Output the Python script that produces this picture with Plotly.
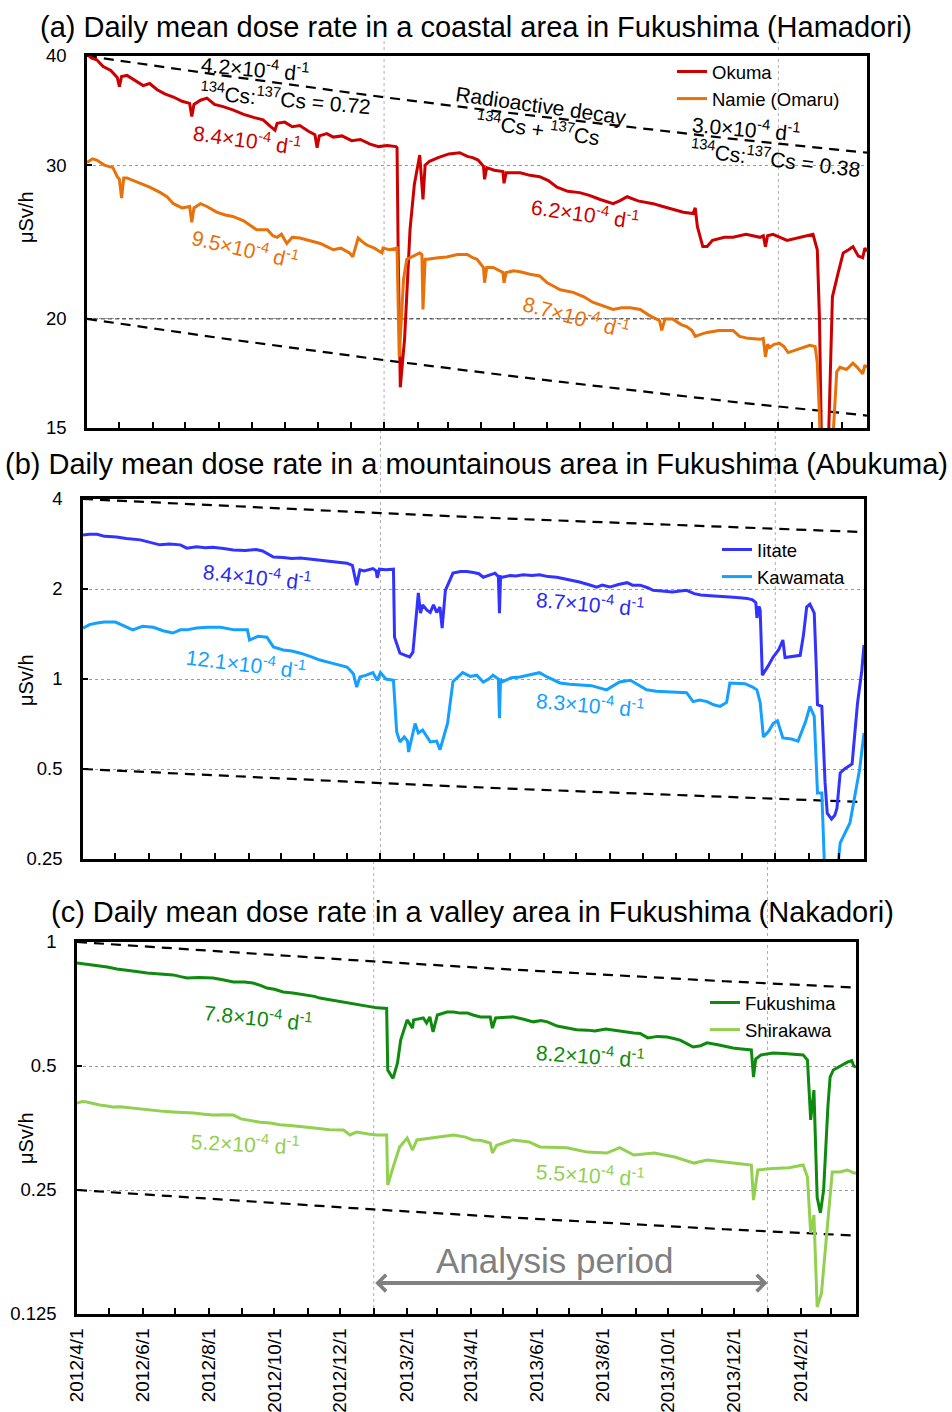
import math
import pandas as pd
import plotly.graph_objects as go

W, H = 952, 1412
FONT = "Liberation Sans, Arial, sans-serif"
BASE = pd.Timestamp("2012-04-01")
X_RANGE = ["2012-04-01", "2014-03-24"]

# ---------------- data (day offset from 2012/4/1, µSv/h) ----------------
okuma = [(0,40.2),(4,39.8),(9,39.6),(15,38.9),(22,38.5),(28,37.8),(30,36.9),(32,37.9),(37,38.0),(45,37.5),
         (52,37.0),(58,37.2),(65,36.6),(72,36.2),(80,35.9),(88,35.5),(95,35.3),(97,34.1),(99,35.2),(105,35.6),
         (111,35.8),(118,35.2),(126,35.0),(135,34.7),(145,34.3),(155,34.0),(163,33.8),(170,33.2),(174,32.9),
         (176,33.5),(183,33.6),(190,33.2),(197,33.3),(205,32.8),(211,32.5),(213,31.4),(215,32.4),(222,32.6),
         (228,32.3),(236,32.4),(245,32.0),(253,32.1),(262,31.7),(270,31.5),(278,31.6),(286,31.5),(287,31.4),
         (288,24.0),(290,16.7),(294,19.0),(299,25.3),(303,28.5),(308,30.8),(311,27.4),(313,30.0),(317,30.3),
         (325,30.6),(335,30.9),(345,31.0),(352,30.7),(357,30.6),(362,30.4),(367,29.9),(368,28.9),(370,29.8),
         (377,29.6),(385,29.5),(386,28.6),(388,29.4),(401,29.4),(410,29.2),(419,29.1),(427,28.8),(435,28.3),
         (445,28.0),(456,27.9),(465,27.7),(475,27.4),(487,27.1),(493,27.3),(500,27.6),(510,27.3),(524,27.1),
         (533,26.9),(542,26.7),(552,26.5),(561,26.4),(563,26.8),(565,25.5),(570,24.2),(574,24.2),(579,24.6),
         (590,24.8),(598,24.8),(610,25.0),(623,24.8),(626,24.9),(628,24.2),(630,24.9),(635,25.0),(648,24.6),
         (660,24.8),(672,25.0),(676,24.0),(678,20.0),(680,14.0),(684,13.0),(686,14.0),(688,17.5),(690,21.2),
         (695,22.5),(700,23.8),(705,24.0),(709,24.2),(714,23.6),(718,23.5),(720,24.1),(722,23.9)]

namie = [(0,30.2),(5,30.5),(9,30.4),(16,30.0),(24,29.8),(28,29.1),(30,28.9),(32,27.5),(34,29.0),(37,29.0),
         (43,28.8),(49,28.6),(58,28.3),(68,27.9),(74,27.6),(80,27.1),(88,26.8),(95,26.9),(97,25.8),(99,26.8),
         (105,27.1),(111,26.9),(120,26.5),(128,26.3),(135,26.2),(145,25.9),(157,25.3),(167,25.3),(172,24.9),
         (176,24.8),(180,25.0),(185,24.4),(190,24.8),(197,24.75),(205,24.6),(216,24.4),(222,24.2),(228,24.0),
         (235,24.1),(243,23.8),(246,23.55),(248,24.0),(251,24.75),(255,24.5),(259,24.3),(266,24.1),(273,23.8),
         (274,24.1),(280,24.0),(287,24.1),(288,21.0),(289,18.1),(291,20.0),(293,22.2),(296,23.4),(302,23.6),
         (308,23.8),(310,23.7),(311,20.5),(313,23.4),(315,23.4),(325,23.5),(333,23.55),(343,23.7),(352,23.7),
         (357,23.5),(361,23.4),(367,22.9),(368,22.0),(370,22.9),(376,22.9),(385,22.6),(386,22.0),(388,22.6),
         (395,22.7),(401,22.65),(410,22.5),(419,22.4),(426,22.0),(432,21.8),(438,21.6),(450,21.45),(460,21.2),
         (468,20.9),(478,20.7),(487,20.5),(495,20.6),(503,20.6),(512,20.5),(520,20.2),(530,19.9),(532,19.4),
         (535,20.0),(542,20.0),(550,19.7),(555,19.6),(560,19.4),(563,19.1),(568,19.2),(574,19.3),(585,19.4),
         (598,19.4),(604,19.1),(612,19.0),(623,18.95),(626,19.0),(628,18.1),(630,18.7),(632,18.55),(636,18.7),
         (641,18.75),(645,18.6),(649,18.3),(655,18.4),(662,18.5),(669,18.65),(674,18.6),(676,17.8),(678,15.5),
         (680,12.5),(684,12.0),(688,12.5),(691,15.0),(694,17.4),(697,17.6),(703,17.5),(709,17.8),(713,17.6),
         (718,17.3),(720,17.7),(722,17.6)]

iitate = [(0,3.03),(6,3.05),(13,3.05),(20,3.0),(31,2.985),(40,2.95),(53,2.92),(62,2.86),(71,2.81),(80,2.83),
          (90,2.81),(96,2.74),(105,2.77),(113,2.75),(120,2.76),(130,2.73),(139,2.70),(150,2.69),(160,2.71),
          (166,2.68),(176,2.56),(185,2.55),(193,2.53),(201,2.54),(210,2.52),(219,2.50),(230,2.48),(238,2.46),
          (244,2.44),(249,2.40),(253,2.06),(256,2.32),(260,2.30),(268,2.34),(271,2.30),(272,2.18),(274,2.33),
          (280,2.32),(287,2.33),(288,1.38),(293,1.22),(298,1.20),(302,1.185),(305,1.23),(308,1.6),(310,1.94),
          (312,1.66),(314,1.77),(318,1.70),(321,1.67),(324,1.77),(327,1.67),(330,1.74),(332,1.48),(335,1.98),
          (340,2.2),(342,2.26),(349,2.29),(355,2.29),(361,2.27),(366,2.25),(370,2.19),(375,2.22),(381,2.26),
          (384,2.2),(385,1.66),(386,2.2),(388,2.19),(395,2.22),(400,2.21),(407,2.23),(415,2.22),(422,2.23),
          (430,2.20),(438,2.19),(449,2.15),(459,2.11),(467,2.07),(475,2.03),(480,2.06),(487,2.03),(495,2.07),
          (503,2.10),(508,2.06),(515,2.06),(522,2.02),(527,1.98),(535,1.97),(545,1.955),(552,1.97),(558,1.98),
          (565,1.93),(571,1.91),(580,1.90),(589,1.885),(598,1.88),(607,1.87),(614,1.86),(619,1.84),(622,1.80),
          (623,1.60),(625,1.75),(626,1.70),(628,1.03),(633,1.10),(638,1.185),(643,1.25),(647,1.35),(649,1.18),
          (655,1.19),(663,1.20),(666,1.4),(669,1.74),(672,1.78),(676,1.66),(678,1.07),(679,0.82),(683,0.81),
          (686,0.45),(688,0.356),(692,0.34),(695,0.35),(697,0.37),(700,0.485),(704,0.50),(711,0.52),(716,0.83),
          (720,1.07),(722,1.30)]

kawamata = [(0,1.48),(6,1.52),(13,1.54),(20,1.55),(30,1.55),(38,1.50),(46,1.46),(55,1.50),(65,1.49),(74,1.45),
            (83,1.425),(90,1.46),(96,1.46),(105,1.48),(115,1.49),(127,1.49),(140,1.46),(152,1.46),(154,1.35),
            (162,1.39),(170,1.38),(176,1.28),(185,1.25),(193,1.24),(201,1.22),(210,1.19),(219,1.157),(230,1.13),
            (238,1.11),(244,1.097),(247,1.07),(250,1.04),(253,0.94),(256,1.016),(262,1.03),(268,1.05),(272,0.99),
            (275,1.05),(280,1.0),(287,0.99),(290,0.665),(293,0.616),(297,0.64),(300,0.62),(301,0.57),(307,0.71),
            (310,0.66),(314,0.675),(321,0.616),(327,0.62),(330,0.58),(337,0.71),(342,0.98),(351,1.05),(358,1.02),
            (364,1.03),(370,0.977),(375,1.0),(379,1.03),(384,1.0),(385,0.74),(386,1.0),(388,0.98),(396,1.01),
            (404,1.016),(412,1.03),(422,1.05),(429,1.016),(435,0.99),(441,0.97),(450,0.96),(459,0.955),(470,0.95),
            (484,0.92),(490,0.95),(496,0.977),(506,0.99),(514,0.95),(521,0.92),(530,0.91),(540,0.905),(550,0.90),
            (558,0.90),(564,0.84),(570,0.85),(577,0.84),(583,0.82),(589,0.81),(595,0.835),(598,0.97),(605,0.97),
            (612,0.965),(619,0.94),(623,0.92),(626,0.835),(629,0.64),(634,0.67),(638,0.71),(642,0.725),(647,0.635),
            (655,0.63),(661,0.62),(668,0.72),(672,0.81),(676,0.75),(679,0.416),(683,0.416),(686,0.21),(690,0.16),
            (694,0.18),(697,0.22),(700,0.283),(709,0.33),(718,0.50),(722,0.66)]

fukushima = [(0,0.889),(6,0.885),(12,0.879),(20,0.872),(28,0.870),(37,0.86),(46,0.855),(55,0.848),(65,0.841),
             (75,0.838),(89,0.832),(96,0.824),(102,0.818),(113,0.82),(126,0.818),(135,0.81),(145,0.80),(155,0.80),
             (163,0.795),(170,0.785),(176,0.773),(183,0.768),(191,0.756),(200,0.752),(213,0.744),(220,0.738),
             (225,0.731),(240,0.72),(253,0.711),(265,0.70),(278,0.692),(287,0.69),(288,0.489),(292,0.47),
             (293,0.467),(297,0.508),(300,0.578),(306,0.647),(309,0.63),(311,0.618),(312,0.647),(321,0.654),
             (324,0.636),(327,0.658),(330,0.605),(334,0.665),(343,0.676),(349,0.676),(355,0.672),(362,0.672),
             (367,0.665),(374,0.658),(383,0.658),(385,0.618),(388,0.654),(395,0.656),(404,0.658),(413,0.65),
             (423,0.64),(430,0.645),(436,0.64),(445,0.625),(454,0.618),(463,0.612),(473,0.611),(480,0.608),
             (490,0.615),(497,0.611),(505,0.605),(516,0.601),(522,0.60),(529,0.585),(538,0.59),(547,0.588),
             (553,0.583),(559,0.578),(566,0.565),(571,0.556),(578,0.56),(584,0.569),(595,0.562),(608,0.553),
             (616,0.55),(625,0.547),(627,0.47),(629,0.52),(634,0.532),(645,0.538),(655,0.536),(665,0.535),
             (673,0.532),(677,0.517),(680,0.37),(683,0.437),(684,0.35),(686,0.24),(689,0.22),(692,0.25),
             (696,0.40),(698,0.47),(701,0.489),(707,0.50),(714,0.511),(718,0.515),(720,0.50),(722,0.497)]

shirakawa = [(0,0.4066),(5,0.41),(9,0.409),(16,0.404),(21,0.402),(28,0.40),(33,0.3976),(40,0.398),(52,0.395),
             (60,0.392),(70,0.391),(80,0.388),(89,0.3867),(100,0.386),(108,0.3845),(118,0.382),(126,0.38),
             (135,0.381),(145,0.38),(152,0.372),(158,0.37),(170,0.365),(179,0.3636),(188,0.36),(200,0.358),
             (213,0.3556),(222,0.353),(234,0.35),(247,0.3497),(253,0.34),(259,0.3456),(270,0.342),(278,0.34),
             (287,0.34),(288,0.257),(293,0.284),(299,0.318),(306,0.3344),(311,0.3126),(315,0.3307),(330,0.3344),
             (349,0.34),(360,0.336),(367,0.3307),(374,0.33),(383,0.325),(385,0.3074),(389,0.321),(404,0.3307),
             (419,0.327),(429,0.318),(454,0.3167),(473,0.309),(491,0.3074),(503,0.3167),(516,0.304),(535,0.3074),
             (554,0.3006),(572,0.2906),(584,0.2955),(608,0.2906),(625,0.2874),(627,0.2363),(631,0.2796),
             (645,0.2818),(660,0.283),(673,0.2874),(677,0.2689),(680,0.1966),(683,0.2174),(686,0.130),
             (690,0.1405),(696,0.2114),(700,0.2764),(707,0.2764),(714,0.2796),(720,0.2751),(722,0.2751)]

# radioactive decay (134Cs + 137Cs), relative to 2012/4/1
decay_days = [0, 120, 275, 400, 500, 600, 722]
decay_ratio = [1.0, 0.952, 0.897, 0.858, 0.830, 0.803, 0.775]
decay_start = {"a": (40, 20), "b": (4, 0.5), "c": (1, 0.25)}

y_ticks = {"a": [15, 20, 30, 40], "b": [0.25, 0.5, 1, 2, 4], "c": [0.125, 0.25, 0.5, 1]}
y_ticktext = {"a": ["15", "20", "30", "40"], "b": ["0.25", "0.5", "1", "2", "4"],
              "c": ["0.125", "0.25", "0.5", "1"]}

month_ticks = pd.date_range("2012-04-01", "2014-03-01", freq="MS")
month_labels = ["2012/4/1", "", "2012/6/1", "", "2012/8/1", "", "2012/10/1", "", "2012/12/1", "",
                "2013/2/1", "", "2013/4/1", "", "2013/6/1", "", "2013/8/1", "", "2013/10/1", "",
                "2013/12/1", "", "2014/2/1", ""]

analysis_period = ["2013-01-01", "2014-01-01"]

COL = {"okuma": "#CC0000", "namie": "#E8710A", "iitate": "#3333FF", "kawamata": "#14A0FF",
       "fukushima": "#0E8A0E", "shirakawa": "#92D050"}


def dates(days):
    return [BASE + pd.Timedelta(days=int(d)) for d in days]


def split(series):
    d, v = zip(*series)
    return dates(d), list(v)


fig = go.Figure()

panels = [
    ("a", "x", "y", "legend", [("Okuma", okuma, COL["okuma"]), ("Namie (Omaru)", namie, COL["namie"])]),
    ("b", "x2", "y2", "legend2", [("Iitate", iitate, COL["iitate"]), ("Kawamata", kawamata, COL["kawamata"])]),
    ("c", "x3", "y3", "legend3", [("Fukushima", fukushima, COL["fukushima"]), ("Shirakawa", shirakawa, COL["shirakawa"])]),
]

for key, xa, ya, leg, series in panels:
    up, lo = decay_start[key]
    for lvl in (up, lo):
        fig.add_trace(go.Scatter(x=dates(decay_days), y=[lvl * r for r in decay_ratio], mode="lines",
                                 line=dict(color="black", width=2.2, dash="10px,7px"),
                                 xaxis=xa, yaxis=ya, showlegend=False, hoverinfo="skip"))
    if key == "a":
        fig.add_trace(go.Scatter(x=X_RANGE, y=[20, 20], mode="lines",
                                 line=dict(color="#333333", width=1, dash="4px,3px"),
                                 xaxis=xa, yaxis=ya, showlegend=False, hoverinfo="skip"))
    for i, (name, s, c) in enumerate(series):
        xd, yv = split(s)
        fig.add_trace(go.Scatter(x=xd, y=yv, mode="lines", name=name, line=dict(color=c, width=3),
                                 xaxis=xa, yaxis=ya, legend=leg, legendgroup=name + key))


def px(xp):
    return xp / W


def py(yp):
    return 1 - yp / H


dom = {
    "a": ((87, 867), (56, 428)),
    "b": ((83, 864), (499, 859)),
    "c": ((77, 856), (942, 1314)),
}

axis_common_x = dict(type="date", range=X_RANGE, tickvals=month_ticks, ticks="inside", ticklen=6,
                     tickwidth=1.5, tickcolor="black", showline=True, linecolor="black", linewidth=2.5,
                     mirror=True, showgrid=False, zeroline=False, automargin=False)
axis_common_y = dict(type="log", ticks="inside", ticklen=5, tickwidth=1.5, tickcolor="black",
                     showline=True, linecolor="black", linewidth=2.5, mirror=True, showgrid=True,
                     gridcolor="#9a9a9a", griddash="dot", gridwidth=1, zeroline=False, automargin=False,
                     tickfont=dict(size=18.5, color="black", family=FONT), ticklabelstandoff=14)

lay = {}
for key, xa, ya, leg, _ in panels:
    (x0, x1), (y0, y1) = dom[key]
    xname = "xaxis" + xa[1:]
    yname = "yaxis" + ya[1:]
    xd = dict(axis_common_x, domain=[px(x0), px(x1)], anchor=ya)
    if key == "c":
        xd.update(ticktext=month_labels, tickangle=-90, showticklabels=True, ticklabelstandoff=4,
                  tickfont=dict(size=19, color="black", family=FONT))
    else:
        xd.update(showticklabels=False)
    lay[xname] = xd
    lo, hi = y_ticks[key][0], y_ticks[key][-1]
    lay[yname] = dict(axis_common_y, domain=[py(y1), py(y0)], anchor=xa,
                      range=[math.log10(lo), math.log10(hi)],
                      tickvals=y_ticks[key], ticktext=y_ticktext[key])

legend_pos = {"legend": (672, 53), "legend2": (717, 531), "legend3": (705, 984)}
for lname, (lx, ly) in legend_pos.items():
    lay[lname] = dict(x=px(lx), y=py(ly), xanchor="left", yanchor="top", bgcolor="rgba(0,0,0,0)",
                      font=dict(size=18.5, color="black", family=FONT), itemwidth=30,
                      tracegroupgap=5, traceorder="normal")

# vertical dotted lines marking the analysis period
shapes = []
extend = {"a": 16 / 372, "b": 71 / 360, "c": 83 / 372}
for key, xa, ya, _, _ in panels:
    for d in analysis_period:
        shapes.append(dict(type="line", xref=xa, yref=ya + " domain", x0=d, x1=d, y0=0, y1=1 + extend[key],
                           line=dict(color="#b0b0b0", width=1, dash="dot"), layer="below"))

annotations = []
titles = [
    ("(a) Daily mean dose rate in a coastal area in Fukushima (Hamadori)", 476, 27),
    ("(b) Daily mean dose rate in a mountainous area in Fukushima (Abukuma)", 476, 464),
    ("(c) Daily mean dose rate in a valley area in Fukushima (Nakadori)", 472, 912),
]
for t, x, y in titles:
    annotations.append(dict(text=t, x=px(x), y=py(y), xref="paper", yref="paper", showarrow=False,
                            xanchor="center", yanchor="middle", font=dict(size=29, color="black", family=FONT)))

for y in (217, 680, 1138):
    annotations.append(dict(text="μSv/h", x=px(26), y=py(y), xref="paper", yref="paper", showarrow=False,
                            textangle=-90, xanchor="center", yanchor="middle",
                            font=dict(size=20, color="black", family=FONT)))

R = "×10<sup>-4</sup> d<sup>-1</sup>"
labels = [
    ("4.2" + R, 255, 68, 5, "black"),
    ("<sup>134</sup>Cs:<sup>137</sup>Cs = 0.72", 285, 98, 5, "black"),
    ("Radioactive decay", 541, 105, 8, "black"),
    ("<sup>134</sup>Cs + <sup>137</sup>Cs", 538, 128, 8, "black"),
    ("3.0" + R, 746, 128, 5, "black"),
    ("<sup>134</sup>Cs:<sup>137</sup>Cs = 0.38", 775, 158, 7, "black"),
    ("8.4" + R, 247, 139, 8, COL["okuma"]),
    ("6.2" + R, 585, 213, 8, COL["okuma"]),
    ("9.5" + R, 245, 248, 13, COL["namie"]),
    ("8.7" + R, 576, 316, 15, COL["namie"]),
    ("8.4" + R, 257, 576, 6, "#2B2BF0"),
    ("8.7" + R, 590, 603, 5, "#2B2BF0"),
    ("12.1" + R, 246, 663, 7, COL["kawamata"]),
    ("8.3" + R, 590, 704, 5, COL["kawamata"]),
    ("7.8" + R, 258, 1017, 6, COL["fukushima"]),
    ("8.2" + R, 590, 1055, 4, COL["fukushima"]),
    ("5.2" + R, 245, 1143, 3, COL["shirakawa"]),
    ("5.5" + R, 590, 1174, 4, COL["shirakawa"]),
]
for t, x, y, ang, c in labels:
    annotations.append(dict(text=t, x=px(x), y=py(y), xref="paper", yref="paper", showarrow=False,
                            textangle=ang, xanchor="center", yanchor="middle",
                            font=dict(size=21, color=c, family=FONT)))

# Analysis period arrow and label
arrow_level = 0.1486
annotations.append(dict(text="", x=analysis_period[1], y=math.log10(arrow_level), xref="x3", yref="y3",
                        ax=analysis_period[0], ay=math.log10(arrow_level), axref="x3", ayref="y3",
                        showarrow=True, arrowhead=4, arrowside="end+start", arrowsize=0.8, arrowwidth=4,
                        arrowcolor="#808080"))
annotations.append(dict(text="Analysis period", x=px(554), y=py(1260), xref="paper", yref="paper",
                        showarrow=False, xanchor="center", yanchor="middle",
                        font=dict(size=35, color="#808080", family=FONT)))

fig.update_layout(width=W, height=H, margin=dict(l=0, r=0, t=0, b=0, autoexpand=False),
                  plot_bgcolor="white", paper_bgcolor="white", shapes=shapes, annotations=annotations,
                  font=dict(family=FONT, color="black"), **lay)

fig.write_html("out.html", config={"displayModeBar": False},
               post_script="document.body.style.margin='0';document.body.style.overflow='hidden';")
